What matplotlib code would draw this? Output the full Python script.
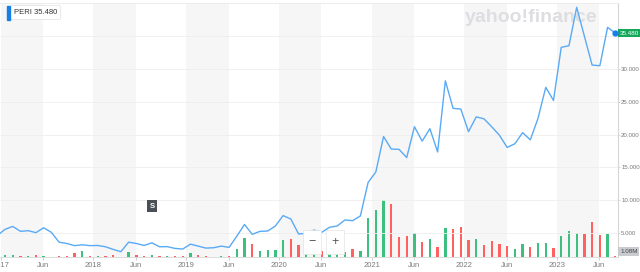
import numpy as np
import matplotlib.pyplot as plt
from matplotlib.patches import Rectangle

plt.rcParams['font.family'] = ['Liberation Sans', 'DejaVu Sans']

# monthly closes, Jan 2017 .. Aug 2023 (one point per month)
first_close = 4.6   # previous month, mostly off the left edge
closes = [5.56, 6.0, 5.26, 5.35, 5.05, 5.8, 5.1, 3.6, 3.4, 3.07,
          3.2, 3.07, 3.1, 2.9, 2.5, 2.15, 3.6, 3.4, 3.1, 3.5,
          2.9, 2.92, 2.65, 2.55, 3.3, 3.0, 2.7, 2.75, 3.0, 2.8,
          4.5, 6.3, 4.8, 5.25, 5.3, 6.07, 7.65, 7.13, 4.85, 4.95,
          5.45, 5.1, 5.87, 6.07, 6.98, 6.88, 7.6, 12.7, 14.3, 19.7,
          17.8, 17.75, 16.5, 21.2, 19.0, 20.9, 17.35, 28.2, 24.0, 23.9,
          20.45, 22.7, 22.4, 21.2, 19.9, 18.05, 18.6, 20.3, 19.2, 22.5,
          27.2, 25.2, 33.3, 33.55, 39.4, 35.0, 30.6, 30.5, 36.35, 35.48]

# monthly volume in millions of shares
volumes = [1.4, 1.7, 1.0, 0.7, 1.8, 1.0, 0.25, 0.6, 0.6, 3.5,
           4.6, 1.0, 0.8, 0.7, 1.7, 0.3, 4.4, 1.4, 0.8, 1.7,
           0.7, 0.8, 0.7, 1.1, 3.6, 1.4, 0.8, 0.3, 1.1, 0.8,
           6.6, 15.8, 11.0, 5.2, 5.6, 5.6, 14.4, 15.2, 10.0, 6.2,
           6.9, 5.0, 4.7, 6.0, 4.2, 6.4, 4.7, 32.2, 39.0, 47.6,
           43.7, 16.6, 17.2, 19.7, 12.5, 14.7, 8.1, 23.8, 23.0, 24.7,
           14.1, 14.9, 10.2, 13.0, 10.8, 9.1, 6.4, 10.8, 8.1, 11.6,
           11.6, 7.5, 17.4, 21.8, 20.2, 18.8, 29.1, 18.0, 18.8, 1.08]

years = [2017, 2018, 2019, 2020, 2021, 2022, 2023]
price_ticks = [5, 10, 15, 20, 25, 30]
events = [('S', 19.6)]   # split marker, month position
ticker = 'PERI'
last_price = 35.48
last_volume = '1.08M'

line_c = '#5aaaf5'
up_c = '#3cbf7f'
down_c = '#ff6060'
grey_txt = '#7a7a7a'

# months since Jan 2017, points sit mid-month
months = np.arange(len(closes)) + 0.55
prev = [first_close] + closes[:-1]
bar_colors = [up_c if c >= p else down_c for c, p in zip(closes, prev)]

fig = plt.figure(figsize=(6.4, 2.72), dpi=100)
ax = fig.add_axes([0, 15 / 272, 618 / 640, 254 / 272])
axv = ax.twinx()
ax.set_zorder(axv.get_zorder() + 1)
ax.patch.set_visible(False)

# shaded half-year bands (Jan -> Jun)
for i, y in enumerate(years):
    axv.axvspan(12 * i, 12 * i + 5.5, color='#f6f6f6', lw=0, zorder=0)

axv.bar(months, volumes, width=0.3, color=bar_colors, zorder=2)
axv.set_ylim(0, 211)
axv.set_yticks([])

for p in price_ticks + [35, 40]:
    ax.axhline(p, color='#eeeeee', lw=0.6, zorder=1)

ax.plot(np.r_[-0.45, months], [first_close] + closes, color=line_c, lw=1.0,
        zorder=3)
ax.plot(months[-1], closes[-1], 'o', color='#1a7ee8', ms=3.5, zorder=4)

ax.set_xlim(-0.1, 79.9)
ax.set_ylim(1.34, 40.06)

# x ticks: year starts and June
xt, xl = [], []
for i, y in enumerate(years):
    xt += [12 * i, 12 * i + 5.5]
    xl += [str(y), 'Jun']
ax.set_xticks(xt)
ax.set_xticklabels(xl)
ax.yaxis.tick_right()
ax.set_yticks(price_ticks)
ax.set_yticklabels(['%.3f' % p for p in price_ticks])
ax.tick_params(axis='x', length=2, width=0.5, color='#bbbbbb', labelsize=5.5,
               labelcolor=grey_txt, pad=1.5)
ax.tick_params(axis='y', length=1.5, width=0.5, color='#cccccc', labelsize=4.4,
               labelcolor=grey_txt, pad=0.8)

for a in (ax, axv):
    for s in a.spines.values():
        s.set_visible(False)
ax.spines['right'].set_visible(True)
ax.spines['right'].set_color('#d6d6d6')
ax.spines['right'].set_linewidth(0.8)
ax.spines['bottom'].set_visible(True)
ax.spines['bottom'].set_color('#d6d6d6')
ax.spines['bottom'].set_linewidth(0.6)
ax.spines['top'].set_visible(True)
ax.spines['top'].set_color('#ececec')
ax.spines['top'].set_linewidth(0.6)

# last price tag and volume tag on the right axis
ax.annotate('%.3f' % last_price, xy=(1, last_price), xycoords=('axes fraction', 'data'),
            xytext=(1.5, 0), textcoords='offset points', ha='left', va='center',
            fontsize=4.5, color='white',
            bbox=dict(boxstyle='square,pad=0.3', fc='#13a85a', ec='none'))
ax.annotate(last_volume, xy=(1, 0), xycoords='axes fraction',
            xytext=(1.5, 4), textcoords='offset points', ha='left', va='center',
            fontsize=4.5, color='#444444',
            bbox=dict(boxstyle='square,pad=0.3', fc='#c9cbd0', ec='none'))

# event markers
for lab, m in events:
    ax.text(m, 0.2, lab, transform=ax.get_xaxis_transform(), ha='center', va='center',
            fontsize=5.5, color='white', fontweight='bold',
            bbox=dict(boxstyle='square,pad=0.35', fc='#4b4f56', ec='none'))

# watermark
fig.text(531 / 640, 1 - 18 / 272, 'yahoo!finance', ha='center', va='center',
         fontsize=14, fontweight='bold', color='#dedee2', zorder=0)

# legend box at top left
fig.text(14 / 640, 1 - 12.5 / 272, '%s %.3f' % (ticker, last_price), ha='left',
         va='center', fontsize=5.5, color='#333333',
         bbox=dict(boxstyle='round,pad=0.45,rounding_size=0.2', fc='white',
                   ec='#e2e2e2', lw=0.5))
fig.patches.append(Rectangle((7 / 640, 1 - 20 / 272), 2.5 / 640, 14 / 272,
                             transform=fig.transFigure, color='#1a7ee8', zorder=5))

# zoom buttons
for ch, px in [('\u2212', 312), ('+', 335)]:
    fig.text(px / 640, 1 - 242 / 272, ch, ha='center', va='center', fontsize=9,
             color='#555555',
             bbox=dict(boxstyle='square,pad=0.45', fc='white', ec='#e4e4e4', lw=0.5))

fig.savefig('out.png', dpi=100)
